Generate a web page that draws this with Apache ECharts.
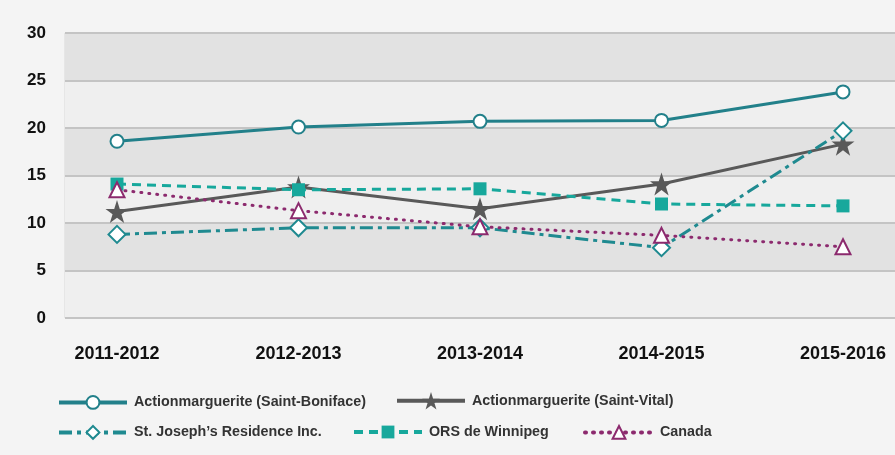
<!DOCTYPE html>
<html><head><meta charset="utf-8">
<script src="https://cdn.jsdelivr.net/npm/echarts@6/dist/echarts.min.js"></script>
<style>html,body{margin:0;padding:0;background:#f4f4f4;}#c{width:895px;height:455px;}</style>
</head><body><div id="c"></div>
<script>
const categories = ['2011-2012','2012-2013','2013-2014','2014-2015','2015-2016'];
const seriesNames = ['Actionmarguerite (Saint-Boniface)','Actionmarguerite (Saint-Vital)','St. Joseph\u2019s Residence Inc.','ORS de Winnipeg','Canada'];
const saintBoniface = [18.6, 20.1, 20.7, 20.8, 23.8];
const saintVital = [11.2, 13.8, 11.5, 14.1, 18.3];
const stJoseph = [8.8, 9.5, 9.5, 7.4, 19.7];
const orsWinnipeg = [14.1, 13.5, 13.6, 12.0, 11.8];
const canada = [13.5, 11.3, 9.6, 8.7, 7.5];
const yTicks = [0, 30, 5];

const chart = echarts.init(document.getElementById('c'), null, {renderer:'canvas'});
const font = 'Liberation Sans, Arial, sans-serif';
function legendAt(name, left, top, h){
  h = h || 16;
  return {data:[name], left:left, top:top - (h-16)/2, itemWidth:68, itemHeight:h, itemGap:0,
    lineStyle:{width:4},
    textStyle:{fontFamily:font, fontWeight:'bold', fontSize:14.3, color:'#333333', padding:[0,0,0,2]}, padding:0};
}
const openStyle = c => ({color:'#ffffff', borderColor:c, borderWidth:2});
chart.setOption({
  animation:false,
  backgroundColor:'#f4f4f4',
  legend:[
    legendAt(seriesNames[0], 57, 395),
    legendAt(seriesNames[1], 395, 395, 22),
    legendAt(seriesNames[2], 57, 425),
    legendAt(seriesNames[3], 352, 425),
    legendAt(seriesNames[4], 583, 425)
  ],
  grid:[
    {left:65, right:0, top:33, bottom:137, show:true, borderColor:'#d8d8d8', borderWidth:1, backgroundColor:'transparent'},
    {left:117, right:52, top:33, bottom:137}
  ],
  xAxis:[
    {gridIndex:0, type:'value', show:false, min:0, max:1},
    {gridIndex:1, type:'category', data:categories, boundaryGap:false,
     axisLine:{show:false}, axisTick:{show:false}, splitLine:{show:false},
     axisLabel:{margin:27, fontFamily:font, fontWeight:'bold', fontSize:18, color:'#111'}}
  ],
  yAxis:[
    {gridIndex:0, type:'value', min:yTicks[0], max:yTicks[1], interval:yTicks[2],
     axisLine:{show:false}, axisTick:{show:false},
     axisLabel:{margin:19, fontFamily:font, fontWeight:'bold', fontSize:17, color:'#111'},
     splitLine:{show:true, lineStyle:{color:'#c4c4c4', width:2}},
     splitArea:{show:true, areaStyle:{color:['#efefef','#e2e2e2']}}},
    {gridIndex:1, type:'value', min:yTicks[0], max:yTicks[1], interval:yTicks[2], show:false, splitLine:{show:false}}
  ],
  series:[
    {name:seriesNames[0], type:'line', xAxisIndex:1, yAxisIndex:1, data:saintBoniface,
     symbol:'circle', symbolSize:13, itemStyle:openStyle('#22808a'),
     lineStyle:{color:'#22808a', width:3}, color:'#22808a'},
    {name:seriesNames[1], type:'line', xAxisIndex:1, yAxisIndex:1, data:saintVital,
     symbol:'path://M50,0 L61.8,35.4 L99,35.4 L69,57.3 L80.4,92.7 L50,70.8 L19.6,92.7 L31,57.3 L1,35.4 L38.2,35.4 Z', symbolSize:23,
     itemStyle:{color:'#595959'}, lineStyle:{color:'#595959', width:3}, color:'#595959'},
    {name:seriesNames[2], type:'line', xAxisIndex:1, yAxisIndex:1, data:stJoseph,
     symbol:'diamond', symbolSize:17, itemStyle:openStyle('#1f8a90'),
     lineStyle:{color:'#1f8a90', width:3, type:[13,5,4,5]}, color:'#1f8a90'},
    {name:seriesNames[3], type:'line', xAxisIndex:1, yAxisIndex:1, data:orsWinnipeg,
     symbol:'rect', symbolSize:13, itemStyle:{color:'#17a89c'},
     lineStyle:{color:'#17a89c', width:3, type:[9,6]}, color:'#17a89c'},
    {name:seriesNames[4], type:'line', xAxisIndex:1, yAxisIndex:1, data:canada,
     symbol:'triangle', symbolSize:15, itemStyle:openStyle('#8c2a6e'),
     lineStyle:{color:'#8c2a6e', width:3, type:[1,7], cap:'round'}, color:'#8c2a6e'}
  ]
});
</script></body></html>
